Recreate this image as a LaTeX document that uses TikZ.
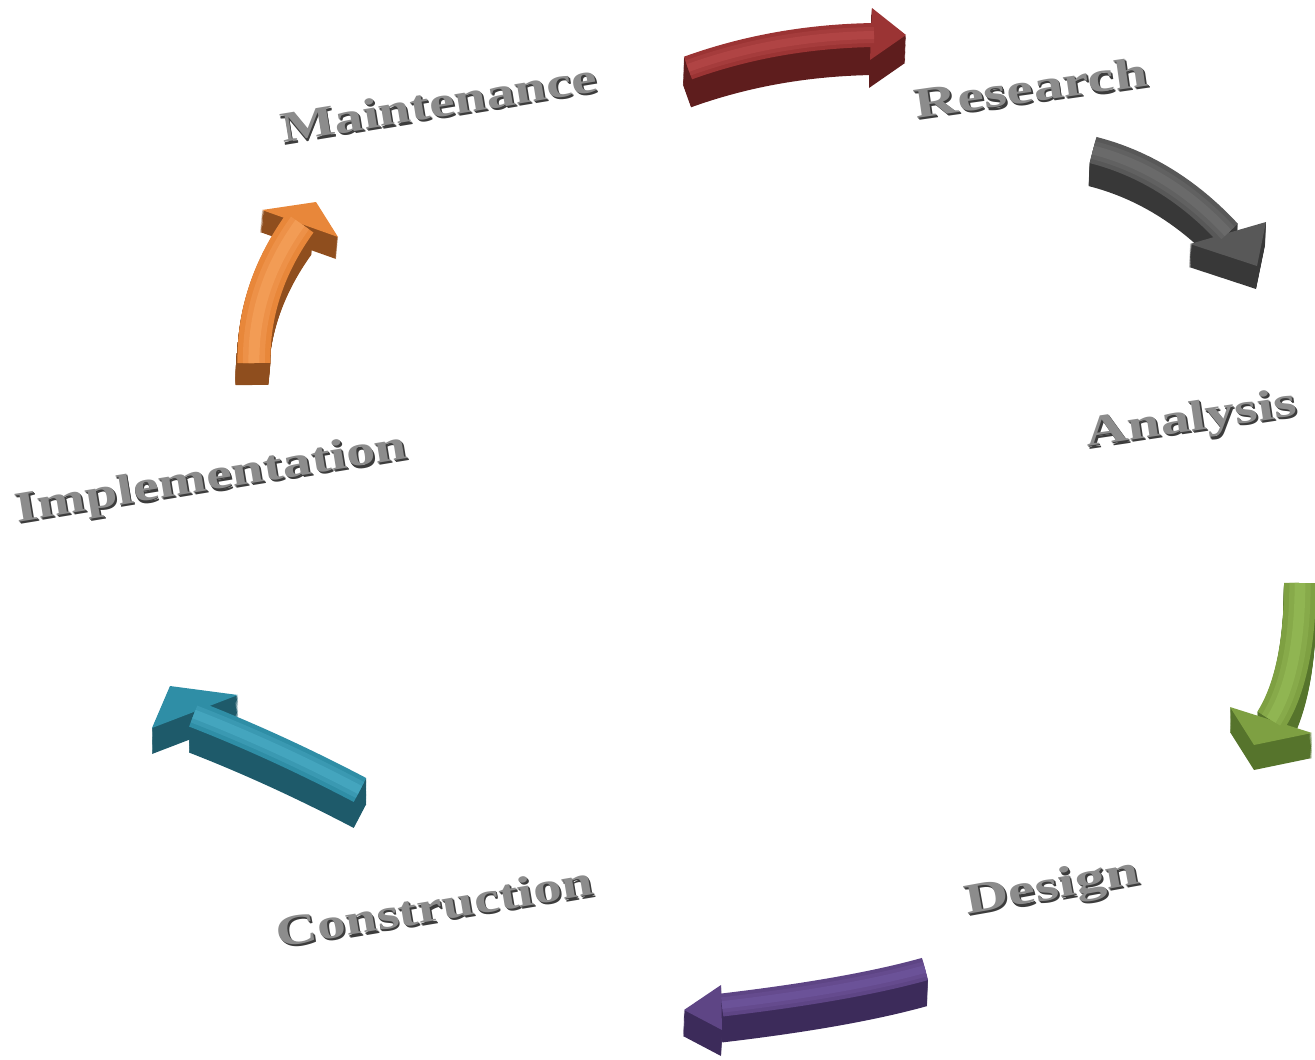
\documentclass[tikz,border=0pt]{standalone}
\usepackage{fontspec}
\setmainfont{Liberation Serif}
\definecolor{rdtop}{HTML}{9B3434}\definecolor{rdhi}{HTML}{B04444}\definecolor{rdside}{HTML}{5E1D1D}
\definecolor{gytop}{HTML}{585858}\definecolor{gyhi}{HTML}{6A6A6A}\definecolor{gyside}{HTML}{383838}
\definecolor{gntop}{HTML}{7EA042}\definecolor{gnhi}{HTML}{90B552}\definecolor{gnside}{HTML}{56742C}
\definecolor{pptop}{HTML}{5E4585}\definecolor{pphi}{HTML}{6B5298}\definecolor{ppside}{HTML}{3C2B5A}
\definecolor{tltop}{HTML}{2F8EA6}\definecolor{tlhi}{HTML}{44A5BE}\definecolor{tlside}{HTML}{1E5A6A}
\definecolor{ortop}{HTML}{E8873A}\definecolor{orhi}{HTML}{F29C55}\definecolor{orside}{HTML}{8F4E1E}
\definecolor{txtgray}{HTML}{8C8C8C}\definecolor{txtdark}{HTML}{3C3C3C}
% #1 colour prefix, #2 body path, #3 head polygon, #4 width (px), #5/#6 extrusion (px)
\newcommand{\tdarrow}[6]{%
  \foreach \i in {24,23,...,1}{%
    \pgfmathsetmacro\myx{\i/24*(#5)}%
    \pgfmathsetmacro\myy{\i/24*(#6)}%
    \begin{scope}[shift={(\myx,\myy)}]
      \draw[line width=#4*0.75pt,color=#1side] #2;
      \fill[#1side] #3 -- cycle;
    \end{scope}}%
  \draw[line width=#4*0.75pt,color=#1top] #2;
  \fill[#1top] #3 -- cycle;
  \draw[line width=#4*0.5pt,color=#1top!50!#1hi] #2;
  \draw[line width=#4*0.25pt,color=#1hi] #2;
}
\newcommand{\emb}[2]{\scalebox{#1}[1]{\rlap{\color{txtdark}\kern0.8pt\raisebox{-1.9pt}{#2}}\rlap{\color{txtdark}\kern0.4pt\raisebox{-1pt}{#2}}\color{txtgray}#2}}
\tikzset{lbl/.style={anchor=base, inner sep=0pt, font=\fontsize{32.25}{36}\selectfont\bfseries}}
\begin{document}
\begin{tikzpicture}[x=0.75pt,y=-0.75pt]
\useasboundingbox (0,0) rectangle (1315,1060);
\clip (0,0) rectangle (1315,1060);
% arrows
\tdarrow{rd}{(688,68) .. controls (749,46) and (811,36) .. (874,35)}{(872,8) -- (906,35) -- (870,60)}{24}{-1}{28}
\tdarrow{gy}{(1093,150) .. controls (1144,163) and (1189,191) .. (1228,233)}{(1190,244) -- (1257,266) -- (1266,222)}{27}{-1}{23}
\tdarrow{gn}{(1300,583) .. controls (1300,644) and (1290,690) .. (1271,720)}{(1230,707) -- (1254,745) -- (1312,733)}{32}{0}{25}
\tdarrow{pp}{(925,969) .. controls (875,983) and (807,995) .. (722,1005)}{(721,985) -- (684,1010) -- (722,1030)}{23}{-1}{26}
\tdarrow{tl}{(360,790) .. controls (299,758) and (243,733) .. (194,714)}{(238,695) -- (170,686) -- (152,728)}{27}{0}{26}
\tdarrow{or}{(254,363) .. controls (253,313) and (269,266) .. (300,223)}{(262,210) -- (316,202) -- (338,237)}{33}{-2}{22}
% labels
\node[lbl,rotate=9.3] (maint) at (441,117) {\emb{1.34}{Maintenance}};
\node[lbl,rotate=8.1] (research) at (1033,102) {\emb{1.39}{Research}};
\node[lbl,rotate=8.5] (analysis) at (1193,431) {\emb{1.37}{Analysis}};
\node[lbl,rotate=10.3] (design) at (1054,899) {\emb{1.42}{Design}};
\node[lbl,rotate=9.5] (construct) at (437,921) {\emb{1.33}{Construction}};
\node[lbl,rotate=9.3] (implement) at (213,490) {\emb{1.35}{Implementation}};
\end{tikzpicture}
\end{document}
